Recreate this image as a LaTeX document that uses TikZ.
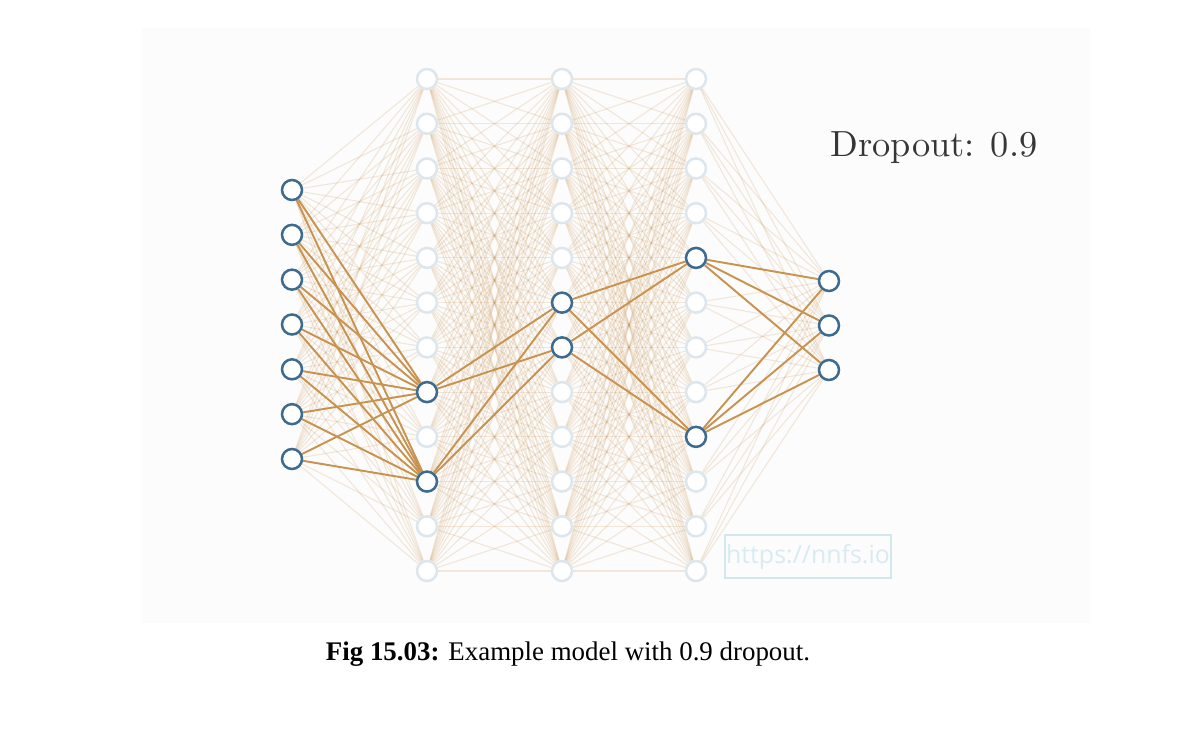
\documentclass[tikz,border=0pt]{standalone}
\usepackage{fontspec}
\newfontfamily\capfont{Liberation Serif}
\newfontfamily\wmfont{Open Sans}
\pgfdeclarelayer{bg}
\pgfdeclarelayer{edges}
\pgfsetlayers{bg,edges,main}
\definecolor{bgc}{HTML}{FCFCFC}
\definecolor{edgec}{HTML}{C8924F}
\definecolor{actc}{HTML}{3D6B8F}
\definecolor{offc}{HTML}{DCE6EC}
\definecolor{wmc}{HTML}{D2E8EF}
\definecolor{txtc}{HTML}{363636}
\tikzset{
  neuron/.style={circle,minimum size=20bp,inner sep=0pt,fill=white,line width=2.5bp},
  on/.style={neuron,draw=actc},
  off/.style={neuron,draw=offc},
  faint/.style={draw=edgec,draw opacity=0.2,line width=1.1bp},
  live/.style={draw=edgec,line width=1.9bp},
}
\begin{document}
\begin{tikzpicture}[x=1bp,y=-1bp]
\useasboundingbox (0,0) rectangle (1180,742);
\begin{pgfonlayer}{bg}
\fill[bgc] (142,28) rectangle (1090,623);
\end{pgfonlayer}
% input layer
\foreach \i in {1,...,7}{
  \node[on] (a\i) at (292,{190+(\i-1)*44.83}) {};
}
% hidden layers
\foreach \L/\x in {b/427,c/562,d/696}{
  \foreach \k in {1,...,12}{
    \node[off] (\L\k) at (\x,{79+(\k-1)*44.73}) {};
  }
}
\node[on] at (b8) {};
\node[on] at (b10) {};
\node[on] at (c6) {};
\node[on] at (c7) {};
\node[on] at (d5) {};
\node[on] at (d9) {};
% output layer
\node[on] (e1) at (829,281) {};
\node[on] (e2) at (829,325.5) {};
\node[on] (e3) at (829,370) {};
\begin{pgfonlayer}{edges}
\foreach \i in {1,...,7}{\foreach \k in {1,...,12}{\draw[faint] (a\i) -- (b\k);}}
\foreach \j in {1,...,12}{\foreach \k in {1,...,12}{
  \draw[faint] (b\j) -- (c\k);
  \draw[faint] (c\j) -- (d\k);}}
\foreach \j in {1,...,12}{\foreach \k in {1,2,3}{\draw[faint] (d\j) -- (e\k);}}
% active connections
\foreach \i in {1,...,7}{\foreach \k in {8,10}{\draw[live] (a\i) -- (b\k);}}
\foreach \j in {8,10}{\foreach \k in {6,7}{\draw[live] (b\j) -- (c\k);}}
\foreach \j in {6,7}{\foreach \k in {5,9}{\draw[live] (c\j) -- (d\k);}}
\foreach \j in {5,9}{\foreach \k in {1,2,3}{\draw[live] (d\j) -- (e\k);}}
\end{pgfonlayer}
% title
\node[text=txtc,inner sep=0pt] (title) at (934,147.5) {\scalebox{3.65}{Dropout: 0.9}};
% watermark
\node[draw=wmc,line width=1.8bp,text=wmc!85!white,minimum width=166bp,minimum height=43bp,inner sep=0pt,font=\wmfont\fontsize{25}{28}\selectfont] (wm) at (808,556.5) {https://nnfs.io};
% caption
\node[font=\capfont\fontsize{27}{31}\selectfont,anchor=base] (cap) at (568,660) {\textbf{Fig 15.03:} Example model with 0.9 dropout.};
\end{tikzpicture}
\end{document}
